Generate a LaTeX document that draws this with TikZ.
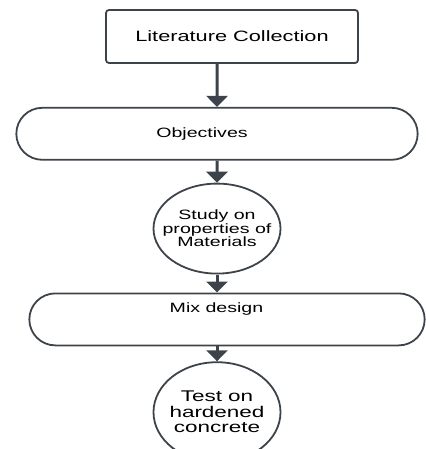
\documentclass[tikz,border=0pt]{standalone}
\usepackage{fontspec}
\newfontfamily\flowfont[FakeStretch=1.45]{Liberation Sans}
\usepackage{tikz}
\usetikzlibrary{positioning, shapes.geometric, shapes.misc, arrows.meta}
\definecolor{slate}{HTML}{3D434A}

\begin{document}
\begin{tikzpicture}[
        x=1pt, y=1pt,
        box/.style={draw=slate, line width=1.8pt, rounded corners=3pt, minimum width=252pt, minimum height=53pt, font=\flowfont\fontsize{15}{18}\selectfont},
        pill/.style={draw=slate, line width=1.8pt, rounded rectangle, minimum height=52pt, font=\flowfont\fontsize{13.5}{15}\selectfont},
        blob/.style={draw=slate, line width=1.8pt, ellipse, align=center, inner xsep=-12pt, minimum width=127pt},
        flow/.style={draw=slate, line width=3pt, -{Triangle[width=21pt,length=11pt]}},
        node distance=20pt,
      ]
      \useasboundingbox (0,0) rectangle (425,-449);
      \node[box] (lit) at (232,-36.5) {Literature Collection};
      \node[pill, minimum width=408pt, below=43pt of lit, xshift=-15pt] (obj) {Objectives\hspace*{30pt}};
      \node[blob, minimum height=90pt, below=22pt of obj, font=\flowfont\fontsize{13.5}{13.5}\selectfont] (study) {Study on\\properties of\\Materials};
      \node[pill, minimum width=402pt, text height=10pt, text depth=24pt, below=18pt of study, xshift=10pt] (mix) {Mix design\hspace*{21pt}};
      \node[blob, minimum height=100pt, below=15pt of mix, xshift=-10pt, font=\flowfont\fontsize{15.5}{15.5}\selectfont] (test) {Test on\\hardened\\concrete};
      \draw[flow] (lit.south -| obj) -- (obj);
      \draw[flow] (obj) -- (study);
      \draw[flow] (study) -- (study |- mix.north);
      \draw[flow] (mix.south -| test) -- (test);
    \end{tikzpicture}
\end{document}
